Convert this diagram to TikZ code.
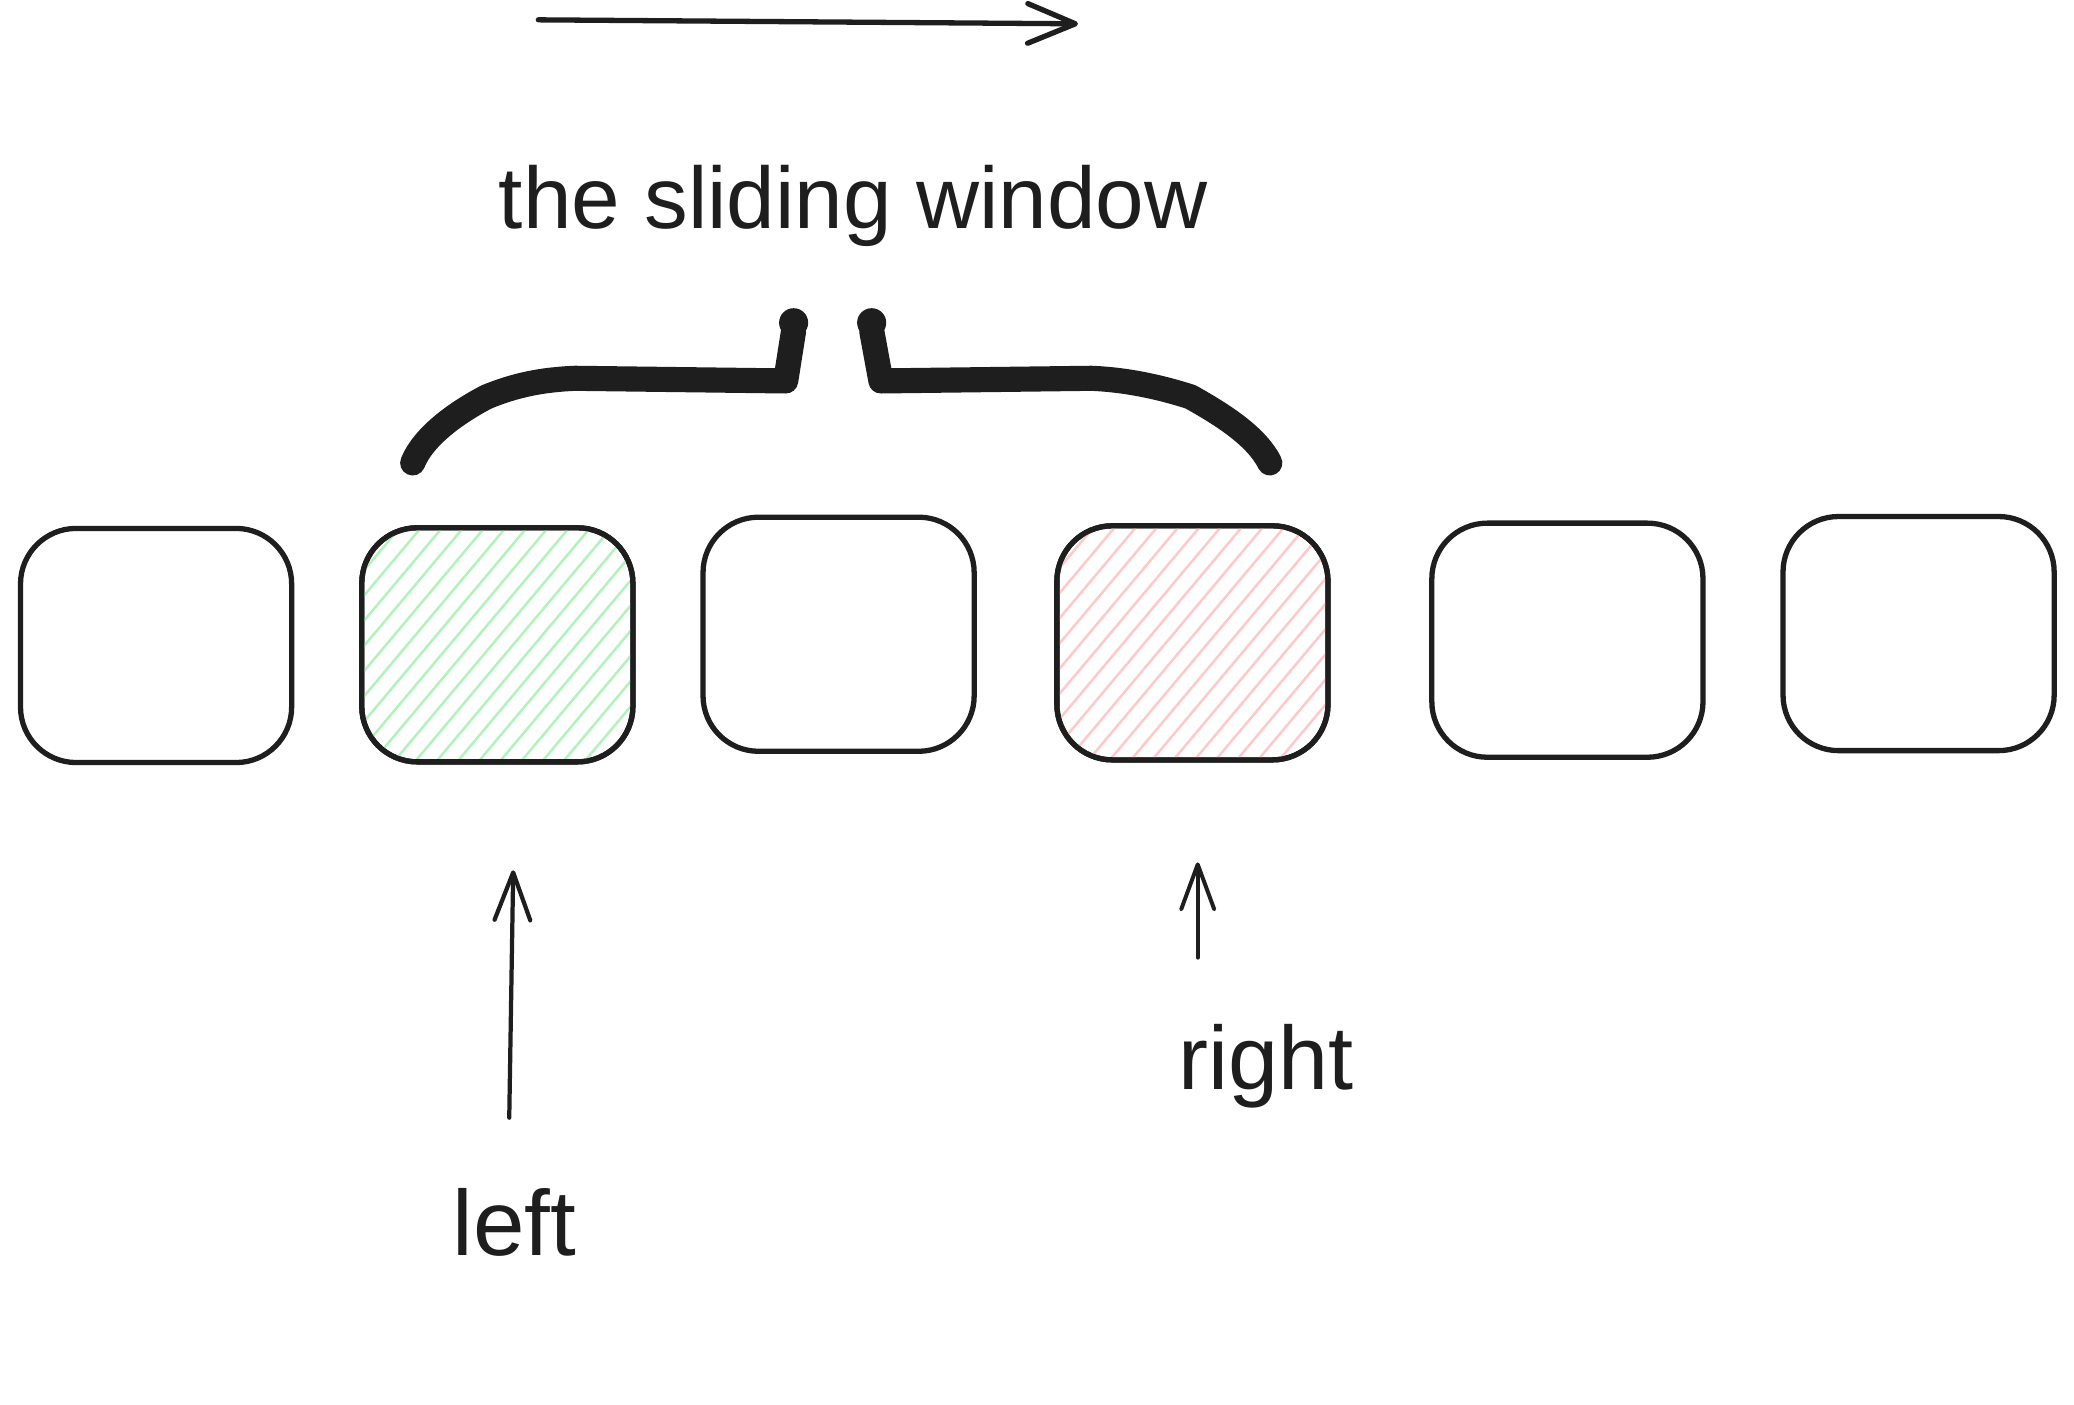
\documentclass[tikz,border=0pt]{standalone}
\usepackage{fontspec}
\setmainfont{Liberation Sans}
\usetikzlibrary{arrows.meta,calc}
\definecolor{ink}{HTML}{1E1E1E}
\definecolor{hgreen}{HTML}{B2F2BB}
\definecolor{hred}{HTML}{FFC9C9}
\tikzset{
  cell/.style={draw=ink, line width=4, rounded corners=42, minimum width=205, minimum height=177, inner sep=0},
  lbl/.style={text=ink, inner sep=0, anchor=base},
  ptr/.style={draw=ink, line width=3, line cap=round},
  brace/.style={draw=ink, line width=19, line cap=round, line join=round},
  hatch/.style={line width=1.9, line cap=round}
}
\newcommand\hatchcell[2]{%
  \begin{scope}
    \clip[rounded corners=38] ($(#1.south west)+(4,-4)$) rectangle ($(#1.north east)+(-4,4)$);
    \foreach \k in {-12,...,14}
      \draw[hatch, draw=#2] ($(#1.south west)+(\k*16,10)$) -- ++(168,-200);
  \end{scope}}
\begin{document}
\begin{tikzpicture}[x=1pt, y=-1pt]
  \useasboundingbox (0,0) rectangle (1568,1062);

  % cells
  \node[cell] (c1) at (118,488) {};
  \node[cell] (c2) at (376,487.5) {};
  \node[cell] (c3) at (634,479.5) {};
  \node[cell] (c4) at (901.5,486) {};
  \node[cell] (c5) at (1185,484) {};
  \node[cell] (c6) at (1450.5,479) {};
  \hatchcell{c2}{hgreen}
  \hatchcell{c4}{hred}
  \node[cell] at (c2) {};
  \node[cell] at (c4) {};

  % top arrow
  \coordinate (ts) at (407,15);
  \coordinate (te) at (815,18);
  \draw[ptr, line width=4, -{Straight Barb[length=36pt,width=30pt,round]}] (ts) -- (te);

  % title
  \node[lbl, font=\fontsize{66}{78}\selectfont] (title) at (645,173) {the sliding window};

  % brace
  \draw[brace] (312,350) .. controls (320,330) and (345,312) .. (368,300)
     .. controls (390,291) and (410,287) .. (435,286) -- (594,288) -- (600,250);
  \draw[brace] (659,250) -- (666,288) -- (825,286)
     .. controls (850,287) and (875,292) .. (900,300)
     .. controls (925,314) and (950,330) .. (960,350);
  \fill[ink] (600,244) circle (11);
  \fill[ink] (659,244) circle (11);

  % pointers
  \coordinate (ls) at (385,845);
  \coordinate (le) at (388,658);
  \draw[ptr, line width=3.2, -{Straight Barb[length=36pt,width=27pt,round]}] (ls) -- (le);
  \coordinate (rs) at (905.5,724);
  \coordinate (re) at (905.5,652);
  \draw[ptr, line width=3, -{Straight Barb[length=34pt,width=25pt,round]}] (rs) -- (re);

  % labels
  \node[lbl, font=\fontsize{70}{82}\selectfont] (left) at (389,949) {left};
  \node[lbl, font=\fontsize{68}{80}\selectfont] (right) at (957,824) {right};
\end{tikzpicture}
\end{document}
